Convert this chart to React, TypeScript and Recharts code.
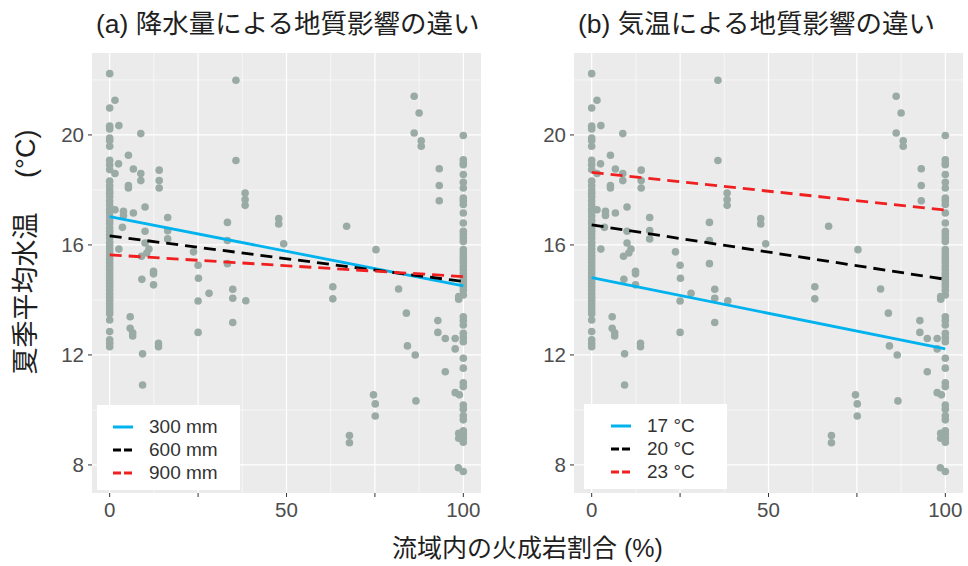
import React from "react";
import {
  ComposedChart,
  Scatter,
  Line,
  XAxis,
  YAxis,
  CartesianGrid,
  ReferenceLine,
} from "recharts";

// sites with 0 % igneous rock (stacked column on the left)
const temps0 = [
  22.23, 20.98, 20.32, 20.22, 19.89, 19.8, 19.59, 19.08, 18.92, 18.74, 18.32,
  18.15, 18.0, 17.88, 17.75, 17.6, 17.45, 17.3, 17.2, 17.05, 16.9, 16.78, 16.62,
  16.5, 16.38, 16.25, 16.1, 15.98, 15.85, 15.72, 15.6, 15.48, 15.35, 15.22, 15.1,
  14.98, 14.85, 14.72, 14.6, 14.48, 14.35, 14.22, 14.1, 13.98, 13.85, 13.72, 13.6,
  13.5, 13.27, 12.85, 12.55, 12.42, 12.3,
];

// sites with 100 % igneous rock (stacked column on the right)
const temps100 = [
  19.98, 19.1, 18.98, 18.92, 18.56, 18.28, 18.07, 17.71, 17.61, 17.47, 17.16,
  16.8, 16.5, 16.38, 16.25, 16.13, 15.83, 15.71, 15.59, 15.47, 15.35, 15.22, 15.1,
  14.97, 14.85, 14.73, 14.6, 14.48, 14.35, 14.18, 13.39, 13.25, 13.09, 12.79,
  12.63, 12.48, 11.88, 11.52, 10.99, 10.85, 10.18, 10.03, 9.79, 9.64, 9.24, 9.12,
  8.97, 8.83, 7.76,
];

// everything in between: [igneous %, temperature]
const midSites: [number, number][] = [
  [1.5, 21.26], [1.5, 18.6], [1.5, 17.28], [2.6, 20.34], [2.5, 18.95],
  [5.3, 19.26], [5.3, 18.16], [5.3, 18.07], [6.7, 18.76], [6.7, 17.16],
  [3.9, 17.22], [3.9, 17.07], [3.6, 16.64], [2.6, 15.85], [8.8, 20.05],
  [8.8, 18.6], [8.8, 18.34], [10, 17.38], [10, 16.5], [10, 16.07],
  [11.1, 15.85], [10.5, 15.71], [9, 15.59], [12.4, 15.04], [12.4, 14.95],
  [12.4, 14.55], [9.1, 14.75], [14, 18.72], [14, 18.34], [14, 18.07],
  [16.4, 17.0], [16.4, 16.52], [16.4, 16.22], [23.7, 15.75], [25, 15.26],
  [25.1, 14.79], [25, 13.96], [25, 12.82], [28.1, 14.24], [33.3, 16.82],
  [33.3, 16.16], [33.3, 15.32], [34.8, 14.39], [34.8, 14.06], [34.8, 13.18],
  [35.7, 21.99], [35.7, 19.07], [38.3, 17.89], [38.3, 17.65], [38.3, 17.44],
  [38.5, 13.97], [47.8, 16.96], [47.8, 16.76], [49.2, 16.04], [5.8, 13.39],
  [5.8, 12.97], [6.5, 12.81], [6.5, 12.69], [9.3, 12.04], [9.3, 10.91],
  [13.8, 12.42], [13.8, 12.3], [63.1, 14.48], [63.1, 14.04], [67, 16.68],
  [67.8, 9.07], [67.8, 8.81], [74.6, 10.55], [75.1, 10.22], [75.1, 9.78],
  [75.3, 15.83], [81.7, 14.4], [83.9, 13.52], [84.2, 12.33], [86.4, 12.0],
  [86.6, 10.33], [86.1, 21.41], [87.5, 20.8], [86.1, 20.07], [88.1, 19.79],
  [88.1, 19.59], [92.8, 13.25], [92.8, 12.82], [93.2, 18.77], [93.2, 18.16],
  [93.2, 17.61], [94.9, 12.6], [94.9, 11.39], [97.7, 12.6], [97.7, 12.22],
  [97.7, 10.63], [98.9, 10.55], [98.7, 14.12], [98.7, 14.03], [98.7, 9.15],
  [98.7, 8.97], [98.6, 7.9],
];

const xTicks = [0, 25, 50, 75, 100];
const xMinor = [12.5, 37.5, 62.5, 87.5];
const yTicks = [8, 12, 16, 20];
const yMinor = [10, 14, 18, 22];

// fitted lines, value at 0 % and at 100 %
const precipLabels = ["300 mm", "600 mm", "900 mm"];
const precipAt0 = [17.03, 16.33, 15.64];
const precipAt100 = [14.51, 14.67, 14.85];

const airLabels = ["17 °C", "20 °C", "23 °C"];
const airAt0 = [14.81, 16.73, 18.64];
const airAt100 = [12.22, 14.75, 17.27];

const lineColors = ["#00b2ee", "#000000", "#f02020"];
const lineDash = [undefined, "12 7", "12 7"];

const FONT = "'Liberation Sans', 'Noto Sans CJK JP', Arial, sans-serif";
const POINT = "#9aaba6";

const points = [
  ...temps0.map((y) => ({ x: 0, y })),
  ...temps100.map((y) => ({ x: 100, y })),
  ...midSites.map(([x, y]) => ({ x, y })),
];

type PanelProps = {
  left: number;
  width: number;
  margin: { top: number; right: number; bottom: number; left: number };
  title: string;
  titleLeft: number;
  labels: string[];
  at0: number[];
  at100: number[];
  legendBox: { left: number; top: number; keyLeft: number };
};

function Panel({
  left,
  width,
  margin,
  title,
  titleLeft,
  labels,
  at0,
  at100,
  legendBox,
}: PanelProps) {
  return (
    <>
      <div
        style={{
          position: "absolute",
          left: titleLeft,
          top: 11,
          fontSize: 26.5,
          lineHeight: 1,
          color: "#1f1f1f",
          whiteSpace: "nowrap",
          fontFamily: FONT,
        }}
      >
        {title}
      </div>
      <div style={{ position: "absolute", left, top: 0 }}>
        <ComposedChart width={width} height={566} margin={margin}>
          <CartesianGrid fill="#ebebeb" horizontal={false} vertical={false} />
          {xMinor.map((v) => (
            <ReferenceLine key={"xm" + v} x={v} stroke="#fff" strokeWidth={0.6} zIndex={-50} />
          ))}
          {yMinor.map((v) => (
            <ReferenceLine key={"ym" + v} y={v} stroke="#fff" strokeWidth={0.6} zIndex={-50} />
          ))}
          {xTicks.map((v) => (
            <ReferenceLine key={"x" + v} x={v} stroke="#fff" strokeWidth={1.2} zIndex={-50} />
          ))}
          {yTicks.map((v) => (
            <ReferenceLine key={"y" + v} y={v} stroke="#fff" strokeWidth={1.2} zIndex={-50} />
          ))}
          <XAxis
            type="number"
            dataKey="x"
            domain={[-5, 105]}
            allowDataOverflow
            ticks={xTicks}
            interval={0}
            tickFormatter={(v) => (v % 50 === 0 ? String(v) : "")}
            height={30}
            axisLine={false}
            tickSize={4}
            tickMargin={5}
            tickLine={{ stroke: "#333" }}
            tick={{ fill: "#4d4d4d", fontSize: 20.5, fontFamily: FONT }}
          />
          <YAxis
            type="number"
            dataKey="y"
            domain={[6.98, 22.98]}
            allowDataOverflow
            ticks={yTicks}
            interval={0}
            width={30}
            axisLine={false}
            tickSize={4}
            tickMargin={4}
            tickLine={{ stroke: "#333" }}
            tick={{ fill: "#4d4d4d", fontSize: 20.5, fontFamily: FONT }}
          />
          <Scatter
            data={points}
            dataKey="y"
            isAnimationActive={false}
            shape={(p: any) => <circle cx={p.cx} cy={p.cy} r={3.8} fill={POINT} />}
          />
          {labels.map((lab, i) => (
            <Line
              key={lab}
              data={[
                { x: 0, y: at0[i] },
                { x: 100, y: at100[i] },
              ]}
              dataKey="y"
              type="linear"
              stroke={lineColors[i]}
              strokeWidth={2.8}
              strokeDasharray={lineDash[i]}
              dot={false}
              activeDot={false}
              isAnimationActive={false}
              zIndex={700}
            />
          ))}
        </ComposedChart>
      </div>
      <div
        style={{
          position: "absolute",
          left: legendBox.left,
          top: legendBox.top,
          width: 143,
          height: 85,
          background: "#fff",
          fontFamily: FONT,
        }}
      >
        {labels.map((lab, i) => (
          <div
            key={lab}
            style={{
              position: "absolute",
              top: 11 + i * 23,
              left: legendBox.keyLeft,
              height: 22,
              display: "flex",
              alignItems: "center",
              fontSize: 19,
              color: "#333",
              whiteSpace: "nowrap",
            }}
          >
            <svg width={20} height={6} style={{ marginRight: 16 }}>
              <line
                x1={0}
                y1={3}
                x2={20}
                y2={3}
                stroke={lineColors[i]}
                strokeWidth={3}
                strokeDasharray={lineDash[i] ? "8 3" : undefined}
              />
            </svg>
            {lab}
          </div>
        ))}
      </div>
    </>
  );
}

export default function App() {
  return (
    <div
      style={{
        position: "absolute",
        left: 0,
        top: 0,
        width: 968,
        height: 566,
        background: "#fff",
        overflow: "hidden",
      }}
    >
      <Panel
        left={0}
        width={490}
        margin={{ top: 53, right: 9, bottom: 43, left: 62 }}
        title="(a) 降水量による地質影響の違い"
        titleLeft={96}
        labels={precipLabels}
        at0={precipAt0}
        at100={precipAt100}
        legendBox={{ left: 97, top: 405, keyLeft: 16 }}
      />
      <Panel
        left={484}
        width={484}
        margin={{ top: 53, right: 5, bottom: 43, left: 60 }}
        title="(b) 気温による地質影響の違い"
        titleLeft={578}
        labels={airLabels}
        at0={airAt0}
        at100={airAt100}
        legendBox={{ left: 584, top: 404, keyLeft: 27 }}
      />
      <div
        style={{
          position: "absolute",
          left: 0,
          width: 1055,
          top: 536,
          textAlign: "center",
          fontSize: 25,
          lineHeight: 1,
          color: "#1f1f1f",
          fontFamily: FONT,
          whiteSpace: "nowrap",
        }}
      >
        流域内の火成岩割合 (%)
      </div>
      <div
        style={{
          position: "absolute",
          left: 26,
          top: 252,
          transform: "translate(-50%, -50%) rotate(-90deg)",
          fontSize: 27,
          lineHeight: 1,
          color: "#1f1f1f",
          fontFamily: FONT,
          whiteSpace: "nowrap",
        }}
      >
        夏季平均水温　 (°C)
      </div>
    </div>
  );
}
